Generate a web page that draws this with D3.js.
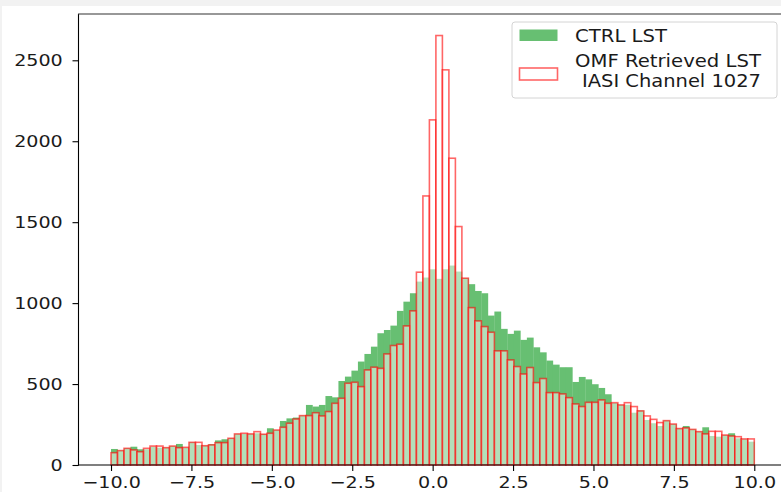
<!DOCTYPE html>
<html>
<head>
<meta charset="utf-8">
<script src="https://cdn.jsdelivr.net/npm/d3@7"></script>
<style>
  html, body { margin: 0; padding: 0; background: #ffffff; }
  svg { display: block; font-family: "DejaVu Sans", sans-serif; }
</style>
</head>
<body>
<svg id="chart" width="781" height="492"></svg>
<script>
// Histogram bins: 99 equal bins spanning -10 .. 10
const binStart = -10;
const binEnd = 10;
const binCount = 99;

// Counts per bin, CTRL LST
const ctrlCounts = [
  99, 89, 103, 113, 97, 97, 113, 107, 107, 117,
  130, 107, 140, 124, 119, 128, 152, 159, 165, 192,
  192, 192, 196, 190, 227, 216, 272, 288, 293, 305,
  371, 361, 371, 426, 418, 519, 546, 583, 639, 686,
  731, 814, 834, 861, 952, 1009, 1061, 1133, 1158, 1209,
  1150, 1209, 1232, 1195, 1154, 1117, 1075, 1061, 923, 948,
  841, 810, 830, 773, 787, 727, 696, 645, 620, 604,
  604, 513, 544, 529, 499, 476, 437, 383, 371, 372,
  323, 336, 278, 258, 241, 274, 253, 225, 241, 220,
  206, 233, 179, 175, 185, 196, 165, 159, 144
];

// Counts per bin, OMF retrieved LST (IASI channel 1027)
const omfCounts = [
  76, 89, 103, 93, 82, 103, 117, 117, 107, 117,
  107, 109, 140, 140, 119, 124, 138, 138, 165, 192,
  196, 192, 206, 190, 196, 216, 233, 258, 284, 305,
  305, 323, 303, 330, 381, 412, 505, 511, 484, 587,
  604, 597, 686, 738, 746, 859, 952, 1191, 1662, 2132,
  2653, 2441, 1895, 1473, 1154, 972, 890, 855, 820, 705,
  705, 649, 608, 562, 602, 509, 534, 447, 447, 439,
  416, 377, 361, 387, 387, 402, 381, 385, 371, 385,
  361, 334, 303, 282, 262, 274, 253, 225, 229, 220,
  206, 192, 208, 208, 185, 179, 175, 161, 161
];

const xTicks = [-10, -7.5, -5, -2.5, 0, 2.5, 5, 7.5, 10];
const yTicks = [0, 500, 1000, 1500, 2000, 2500];
const seriesLabels = ["CTRL LST", ["OMF Retrieved LST", " IASI Channel 1027"]];

const ctrlColor = "#67bf72";
const omfEdge = "rgba(255,0,0,0.6)";
const omfFill = "rgba(255,255,255,0.5)";
const tickFont = 16;
const legendFont = 17;

const svg = d3.select("#chart");

// light frame along the top and left margins
svg.append("rect").attr("x", 0).attr("y", 0).attr("width", 781).attr("height", 6).attr("fill", "#f2f2f2");
svg.append("rect").attr("x", 0).attr("y", 0).attr("width", 2).attr("height", 492).attr("fill", "#f2f2f2");

const x = d3.scaleLinear().domain([-11, 11]).range([78.85, 786.45]);
const y = d3.scaleLinear().domain([0, 2786]).range([465, 14]);

const binWidth = (binEnd - binStart) / binCount;
const bins = d3.range(binCount).map(i => ({
  x0: binStart + i * binWidth,
  x1: binStart + (i + 1) * binWidth,
  ctrl: ctrlCounts[i],
  omf: omfCounts[i]
}));

const plot = svg.append("g");

// CTRL LST: filled bars
plot.append("g").selectAll("rect").data(bins).join("rect")
  .attr("x", d => x(d.x0))
  .attr("width", d => x(d.x1) - x(d.x0) + 0.3)
  .attr("y", d => y(d.ctrl))
  .attr("height", d => y(0) - y(d.ctrl))
  .attr("fill", ctrlColor);

// OMF retrieved LST: translucent white bars with red outlines
plot.append("g").selectAll("rect").data(bins).join("rect")
  .attr("x", d => x(d.x0))
  .attr("width", d => x(d.x1) - x(d.x0))
  .attr("y", d => y(d.omf))
  .attr("height", d => y(0) - y(d.omf))
  .attr("fill", omfFill)
  .attr("stroke", omfEdge)
  .attr("stroke-width", 1.6);

// spines
svg.append("line").attr("x1", 78.5).attr("x2", 78.5).attr("y1", 14).attr("y2", 465.5)
  .attr("stroke", "#000").attr("stroke-width", 1.1);
svg.append("line").attr("x1", 78).attr("x2", 781).attr("y1", 14).attr("y2", 14)
  .attr("stroke", "#333").attr("stroke-width", 1.1);
svg.append("line").attr("x1", 78).attr("x2", 781).attr("y1", 465).attr("y2", 465)
  .attr("stroke", "#000").attr("stroke-width", 1.1);

// tick labels are drawn a little wide: advance widths (in em) for the glyphs used
const advance = { "0": 0.636, "1": 0.636, "2": 0.636, "5": 0.636, "7": 0.636, ".": 0.318, "\u2212": 0.838 };
const tickEm = 19.1;
const tickWidth = s => Array.from(s).reduce((acc, c) => acc + (advance[c] || 0.636), 0) * tickEm;

// axes
const fmtX = v => d3.format(".1f")(v).replace("-", "\u2212");

const gx = svg.append("g").attr("transform", "translate(0,465)")
  .call(d3.axisBottom(x).tickValues(xTicks).tickFormat(fmtX).tickSize(6).tickSizeOuter(0));
gx.select(".domain").remove();
gx.selectAll(".tick line").attr("stroke", "#000").attr("stroke-width", 1.1);
gx.selectAll(".tick text")
  .attr("y", 11.7).attr("dy", "0.71em")
  .attr("fill", "#1a1a1a").style("font-size", tickFont + "px")
  .style("font-family", "DejaVu Sans")
  .attr("textLength", d => tickWidth(fmtX(d)))
  .attr("lengthAdjust", "spacingAndGlyphs");

const gy = svg.append("g").attr("transform", "translate(78.5,0)")
  .call(d3.axisLeft(y).tickValues(yTicks).tickFormat(d3.format("d")).tickSize(6).tickSizeOuter(0));
gy.select(".domain").remove();
gy.selectAll(".tick line").attr("stroke", "#000").attr("stroke-width", 1.1);
gy.selectAll(".tick text")
  .attr("x", -15.8).attr("dy", "0.32em")
  .attr("fill", "#1a1a1a").style("font-size", tickFont + "px")
  .style("font-family", "DejaVu Sans")
  .attr("textLength", d => tickWidth(String(d)))
  .attr("lengthAdjust", "spacingAndGlyphs");

// legend
const legend = svg.append("g");
legend.append("rect")
  .attr("x", 512).attr("y", 22).attr("width", 265).attr("height", 76)
  .attr("rx", 3).attr("fill", "rgba(255,255,255,0.8)")
  .attr("stroke", "#d4d4d4").attr("stroke-width", 1);

legend.append("rect")
  .attr("x", 519.5).attr("y", 29.5).attr("width", 38).attr("height", 11.5)
  .attr("fill", ctrlColor);
legend.append("rect")
  .attr("x", 519.5).attr("y", 68).attr("width", 38).attr("height", 12)
  .attr("fill", omfFill).attr("stroke", omfEdge).attr("stroke-width", 1.6);

function legendText(str, bx, by, len) {
  legend.append("text")
    .attr("x", bx).attr("y", by)
    .attr("fill", "#1a1a1a")
    .style("font-size", legendFont + "px")
    .attr("textLength", len)
    .attr("lengthAdjust", "spacingAndGlyphs")
    .text(str);
}
legendText(seriesLabels[0], 575, 41.5, 92);
legendText(seriesLabels[1][0], 575, 67, 186);
// second line of the label starts one space further in
legendText(seriesLabels[1][1].trim(), 582, 87, 179);
</script>
</body>
</html>
